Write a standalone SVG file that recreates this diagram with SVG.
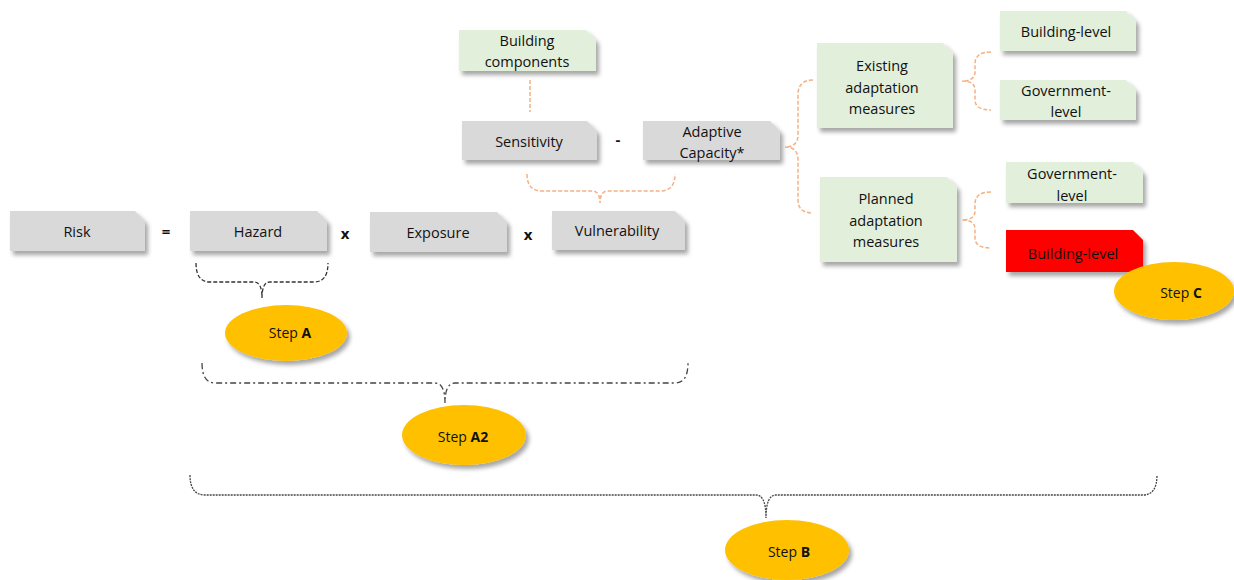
<svg xmlns="http://www.w3.org/2000/svg" width="1234" height="580" viewBox="0 0 1234 580">
<defs>
<filter id="sh" x="-20%" y="-20%" width="140%" height="160%">
<feDropShadow dx="3" dy="4" stdDeviation="2" flood-color="#000" flood-opacity="0.35"/>
</filter>
</defs>
<style>
.gray{fill:#d9d9d9;filter:url(#sh)}
.green{fill:#e2efda;filter:url(#sh)}
.red{fill:#ff0000;filter:url(#sh)}
.ell{fill:#ffc000;filter:url(#sh)}
text{font-family:"Open Sans","Liberation Sans",sans-serif;font-size:14.5px;fill:#111;text-anchor:middle;dominant-baseline:central}
.op{font-size:15px;font-weight:bold}
.st{font-size:14px}
.b{font-weight:bold}
.orange{fill:none;stroke:#f4b183;stroke-width:1.5;stroke-dasharray:4 2}
.bA{fill:none;stroke:#333;stroke-width:1.3;stroke-dasharray:4 2}
.bA2{fill:none;stroke:#444;stroke-width:1.3;stroke-dasharray:6 3 2 3}
.bB{fill:none;stroke:#444;stroke-width:1.3;stroke-dasharray:2 1}
</style>
<g id="connectors">
<path class="orange" d="M530,80 V112"/>
<path class="orange" d="M527,174 Q527,191 542,191 H592 Q600,191 600,203 Q600,191 608,191 H660 Q675,191 675,174"/>
<path class="orange" d="M813,80 Q798,80 798,95 V135 Q798,147 785,147 Q798,147 798,160 V200 Q798,213 813,213"/>
<path class="orange" d="M991,52 Q975,52 975,64 V72 Q975,81 962,81 Q975,81 975,90 V100 Q975,110 991,110"/>
<path class="orange" d="M991,192 Q975,192 975,204 V211 Q975,220 962,220 Q975,220 975,229 V238 Q975,248 991,248"/>
<path class="bA" d="M196,263 Q196,282 210,282 H254 Q262,282 262,298 Q262,282 270,282 H314 Q328,282 328,263"/>
<path class="bA2" d="M202,363 Q202,383 215,383 H435 Q445,383 445,403 Q445,383 455,383 H675 Q688,383 688,363"/>
<path class="bB" d="M190,475 Q190,495 205,495 H756 Q766,495 766,518 Q766,495 776,495 H1143 Q1157,495 1157,475"/>
</g>
<g id="risk"><path class="gray" d="M10,211 H135 L145,221 V251 H10 Z"/><text x="77" y="231">Risk</text></g>
<text class="op" x="166" y="231">=</text>
<g id="hazard"><path class="gray" d="M190,211 H317 L327,221 V251 H190 Z"/><text x="258" y="231">Hazard</text></g>
<text class="op" x="345" y="233">x</text>
<g id="exposure"><path class="gray" d="M370,212 H497 L507,222 V252 H370 Z"/><text x="438" y="232">Exposure</text></g>
<text class="op" x="528" y="234">x</text>
<g id="vulnerability"><path class="gray" d="M552,211 H675 L685,221 V250 H552 Z"/><text x="617" y="230">Vulnerability</text></g>
<g id="sensitivity"><path class="gray" d="M462,121 H587 L597,131 V160 H462 Z"/><text x="529" y="141">Sensitivity</text></g>
<text class="op" x="618" y="139">-</text>
<g id="adaptive"><path class="gray" d="M643,121 H770 L780,131 V160 H643 Z"/><text x="712" y="131">Adaptive</text><text x="712" y="152">Capacity*</text></g>
<g id="components"><path class="green" d="M459,30 H586 L596,40 V71 H459 Z"/><text x="527" y="40">Building</text><text x="527" y="61">components</text></g>
<g id="existing"><path class="green" d="M817,43 H943 L953,53 V128 H817 Z"/><text x="882" y="65">Existing</text><text x="882" y="87">adaptation</text><text x="882" y="108">measures</text></g>
<g id="planned"><path class="green" d="M820,177 H947 L957,187 V262 H820 Z"/><text x="886" y="198">Planned</text><text x="886" y="220">adaptation</text><text x="886" y="241">measures</text></g>
<g id="building1"><path class="green" d="M1000,11 H1126 L1136,21 V51 H1000 Z"/><text x="1066" y="31">Building-level</text></g>
<g id="gov1"><path class="green" d="M1000,80 H1126 L1136,90 V120 H1000 Z"/><text x="1066" y="90">Government-</text><text x="1066" y="111">level</text></g>
<g id="gov2"><path class="green" d="M1006,162 H1133 L1143,172 V203 H1006 Z"/><text x="1072" y="173">Government-</text><text x="1072" y="195">level</text></g>
<g id="building2"><path class="red" d="M1006,230 H1133 L1143,240 V272 H1006 Z"/><text x="1073" y="253">Building-level</text></g>
<g id="stepA"><ellipse class="ell" cx="286" cy="333" rx="61" ry="28"/><text class="st" x="290" y="332">Step <tspan class="b">A</tspan></text></g>
<g id="stepA2"><ellipse class="ell" cx="464" cy="435" rx="62" ry="30"/><text class="st" x="463" y="436">Step <tspan class="b">A2</tspan></text></g>
<g id="stepB"><ellipse class="ell" cx="787" cy="550" rx="62" ry="30"/><text class="st" x="789" y="551">Step <tspan class="b">B</tspan></text></g>
<g id="stepC"><ellipse class="ell" cx="1174" cy="291" rx="60" ry="29"/><text class="st" x="1181" y="292">Step <tspan class="b">C</tspan></text></g>
</svg>
